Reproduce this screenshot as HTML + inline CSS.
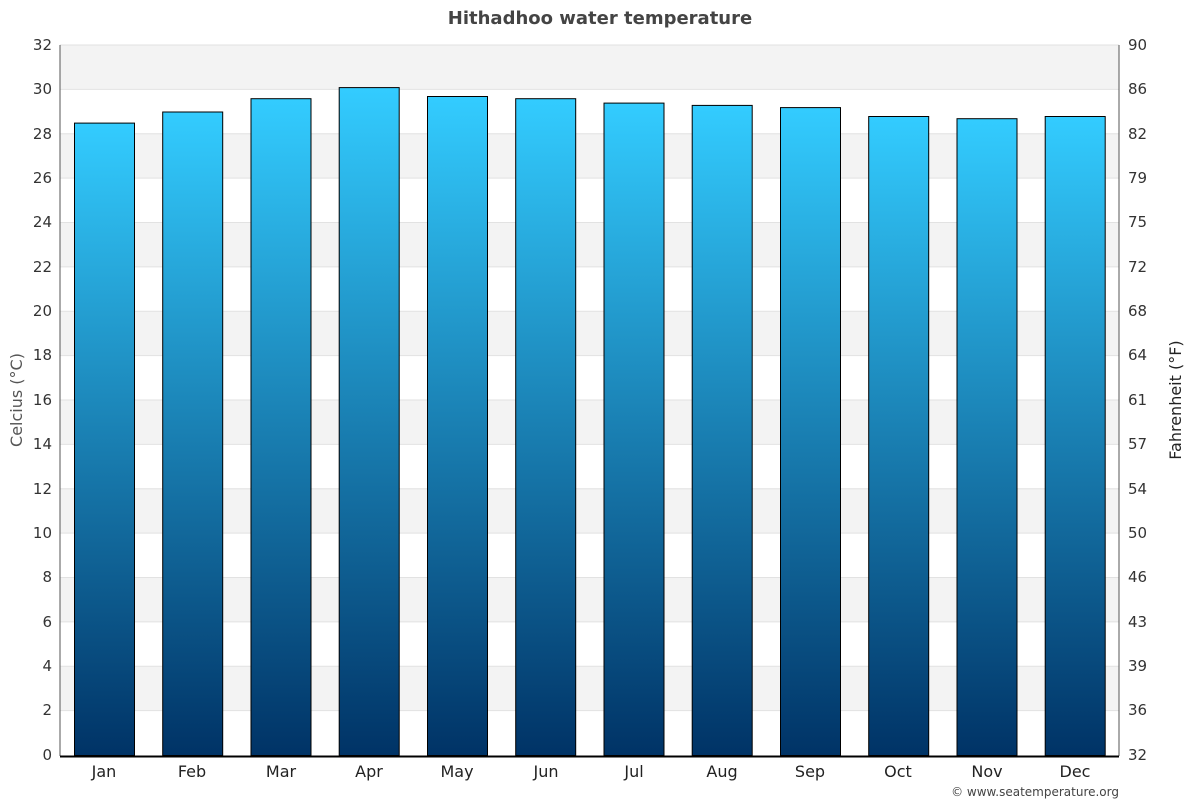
<!DOCTYPE html>
<html><head><meta charset="utf-8"><style>body{margin:0;background:#fff}svg{display:block;font-family:"DejaVu Sans","Liberation Sans",sans-serif}</style></head>
<body>
<svg width="1200" height="800" viewBox="0 0 1200 800" xmlns="http://www.w3.org/2000/svg">
<defs><linearGradient id="g" x1="0" y1="0" x2="0" y2="1"><stop offset="0" stop-color="#33ccff"/><stop offset="1" stop-color="#003366"/></linearGradient></defs>
<text x="600" y="24" text-anchor="middle" font-size="18" font-weight="bold" fill="#444">Hithadhoo water temperature</text>
<g fill="#f3f3f3">
<rect x="60" y="45" width="1059" height="44.4"/>
<rect x="60" y="133.8" width="1059" height="44.4"/>
<rect x="60" y="222.5" width="1059" height="44.4"/>
<rect x="60" y="311.3" width="1059" height="44.4"/>
<rect x="60" y="400" width="1059" height="44.4"/>
<rect x="60" y="488.8" width="1059" height="44.4"/>
<rect x="60" y="577.5" width="1059" height="44.4"/>
<rect x="60" y="666.3" width="1059" height="44.4"/>
</g>
<g stroke="#e2e2e2" stroke-width="1">
<line x1="60" x2="1119" y1="45" y2="45"/><line x1="60" x2="1119" y1="89.4" y2="89.4"/><line x1="60" x2="1119" y1="133.8" y2="133.8"/><line x1="60" x2="1119" y1="178.1" y2="178.1"/><line x1="60" x2="1119" y1="222.5" y2="222.5"/><line x1="60" x2="1119" y1="266.9" y2="266.9"/><line x1="60" x2="1119" y1="311.3" y2="311.3"/><line x1="60" x2="1119" y1="355.6" y2="355.6"/><line x1="60" x2="1119" y1="400" y2="400"/><line x1="60" x2="1119" y1="444.4" y2="444.4"/><line x1="60" x2="1119" y1="488.8" y2="488.8"/><line x1="60" x2="1119" y1="533.1" y2="533.1"/><line x1="60" x2="1119" y1="577.5" y2="577.5"/><line x1="60" x2="1119" y1="621.9" y2="621.9"/><line x1="60" x2="1119" y1="666.3" y2="666.3"/><line x1="60" x2="1119" y1="710.6" y2="710.6"/>
</g>
<line x1="60" y1="45" x2="60" y2="756" stroke="#555"/>
<line x1="1119" y1="45" x2="1119" y2="756" stroke="#555"/>
<g fill="url(#g)" stroke="#000" stroke-width="1">
<rect x="74.5" y="123.1" width="60" height="632.4"/>
<rect x="162.7" y="112" width="60" height="643.5"/>
<rect x="251" y="98.7" width="60" height="656.8"/>
<rect x="339.2" y="87.6" width="60" height="667.9"/>
<rect x="427.5" y="96.5" width="60" height="659"/>
<rect x="515.7" y="98.7" width="60" height="656.8"/>
<rect x="604" y="103.1" width="60" height="652.4"/>
<rect x="692.2" y="105.4" width="60" height="650.1"/>
<rect x="780.5" y="107.6" width="60" height="647.9"/>
<rect x="868.7" y="116.5" width="60" height="639"/>
<rect x="957" y="118.7" width="60" height="636.8"/>
<rect x="1045.2" y="116.5" width="60" height="639"/>
</g>
<line x1="60" y1="756.5" x2="1119" y2="756.5" stroke="#000" stroke-width="2"/>
<g font-size="15" fill="#333" text-anchor="end">
<text x="52" y="50">32</text><text x="52" y="94">30</text><text x="52" y="139">28</text><text x="52" y="183">26</text><text x="52" y="227">24</text><text x="52" y="272">22</text><text x="52" y="316">20</text><text x="52" y="360">18</text><text x="52" y="405">16</text><text x="52" y="449">14</text><text x="52" y="494">12</text><text x="52" y="538">10</text><text x="52" y="582">8</text><text x="52" y="627">6</text><text x="52" y="671">4</text><text x="52" y="715">2</text><text x="52" y="760">0</text>
</g>
<g font-size="15" fill="#333" text-anchor="start">
<text x="1128" y="50">90</text><text x="1128" y="94">86</text><text x="1128" y="139">82</text><text x="1128" y="183">79</text><text x="1128" y="227">75</text><text x="1128" y="272">72</text><text x="1128" y="316">68</text><text x="1128" y="360">64</text><text x="1128" y="405">61</text><text x="1128" y="449">57</text><text x="1128" y="494">54</text><text x="1128" y="538">50</text><text x="1128" y="582">46</text><text x="1128" y="627">43</text><text x="1128" y="671">39</text><text x="1128" y="715">36</text><text x="1128" y="760">32</text>
</g>
<g font-size="16" fill="#222" text-anchor="middle">
<text x="104" y="777">Jan</text><text x="192" y="777">Feb</text><text x="281" y="777">Mar</text><text x="369" y="777">Apr</text><text x="457" y="777">May</text><text x="546" y="777">Jun</text><text x="634" y="777">Jul</text><text x="722" y="777">Aug</text><text x="810" y="777">Sep</text><text x="898" y="777">Oct</text><text x="987" y="777">Nov</text><text x="1075" y="777">Dec</text>
</g>
<text transform="translate(22,400) rotate(-90)" text-anchor="middle" font-size="16" fill="#555">Celcius (°C)</text>
<text transform="translate(1181,400) rotate(-90)" text-anchor="middle" font-size="16" fill="#222">Fahrenheit (°F)</text>
<text x="1119" y="796" text-anchor="end" font-size="12" fill="#444">© www.seatemperature.org</text>
</svg>
</body></html>
